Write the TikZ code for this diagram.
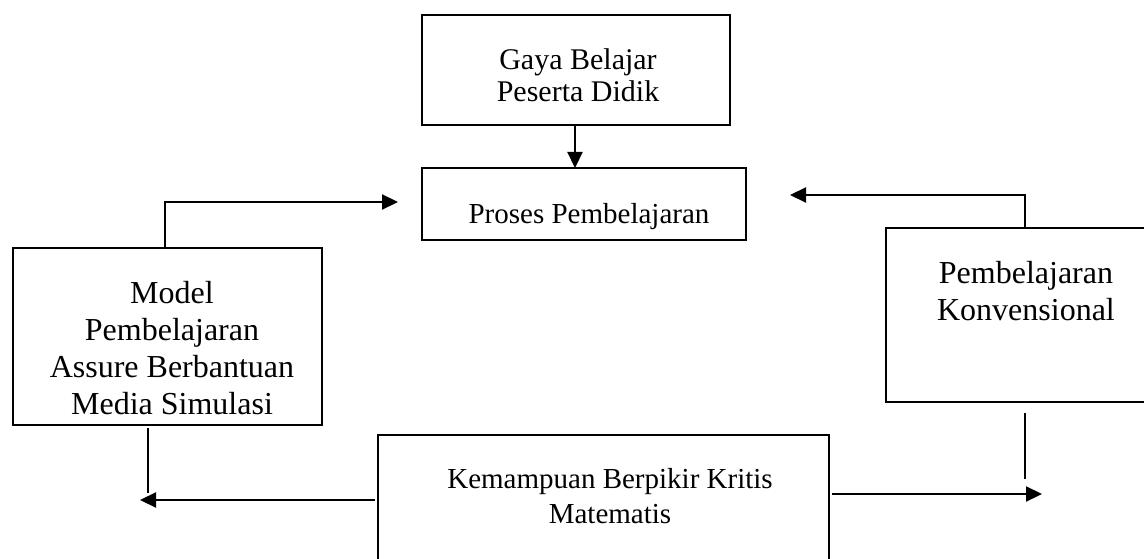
\documentclass[tikz,border=0pt]{standalone}
\usepackage{fontspec}
\setmainfont{Liberation Serif}
\usetikzlibrary{arrows.meta}
\begin{document}
\begin{tikzpicture}[x=1pt,y=-1pt,
  box/.style={draw,line width=2.2pt,rectangle,inner sep=0pt,outer sep=0pt},
  txt/.style={align=center,anchor=base,inner sep=0pt},
  conn/.style={line width=2.2pt},
  arr/.style={line width=2.2pt,-{Triangle[length=16pt,width=15pt]}}]
\useasboundingbox (0,0) rectangle (1144,559);
% boxes
\node[box,minimum width=308pt,minimum height=110pt] (gaya) at (576,70) {};
\node[box,minimum width=324pt,minimum height=72pt] (proses) at (584,204) {};
\node[box,minimum width=309pt,minimum height=177pt] (model) at (167.5,336.5) {};
\node[box,minimum width=260pt,minimum height=174pt] (konv) at (1016,315) {};
\node[box,minimum width=451pt,minimum height=126pt] (kemam) at (603.5,498) {};
% texts (anchor base = last line baseline)
\node[txt,font=\fontsize{30}{32}\selectfont] (gayat) at (578,102) {Gaya Belajar\\Peserta Didik};
\node[txt,font=\fontsize{29}{35}\selectfont] (prosest) at (589,223) {Proses Pembelajaran};
\node[txt,font=\fontsize{32}{37}\selectfont] (modelt) at (172,414) {Model\\Pembelajaran\\Assure Berbantuan\\Media Simulasi};
\node[txt,font=\fontsize{32}{37}\selectfont] (konvt) at (1026,320) {Pembelajaran\\Konvensional};
\node[txt,font=\fontsize{29}{35}\selectfont] (kemamt) at (610,523) {Kemampuan Berpikir Kritis\\Matematis};
% free ends
\coordinate (m1) at (398,202);
\coordinate (k1) at (790,195);
\coordinate (l0) at (148,493);
\coordinate (l1) at (140,500);
\coordinate (r0) at (1025,479);
\coordinate (r1) at (1042,494);
% connectors
\draw[arr] ([xshift=-1pt]gaya.south) -- ([xshift=-1pt]gaya.south |- proses.north);
\draw[arr] ([xshift=-2.5pt]model.north) |- (m1);
\draw[arr] ([xshift=9pt]konv.north) |- (k1);
\draw[conn,shorten <=3pt] (model.south -| l0) -- (l0);
\draw[arr,shorten <=3pt] (kemam.west |- l1) -- (l1);
\draw[conn,shorten <=11pt] (konv.south -| r0) -- (r0);
\draw[arr,shorten <=3pt] (kemam.east |- r1) -- (r1);
\end{tikzpicture}
\end{document}
